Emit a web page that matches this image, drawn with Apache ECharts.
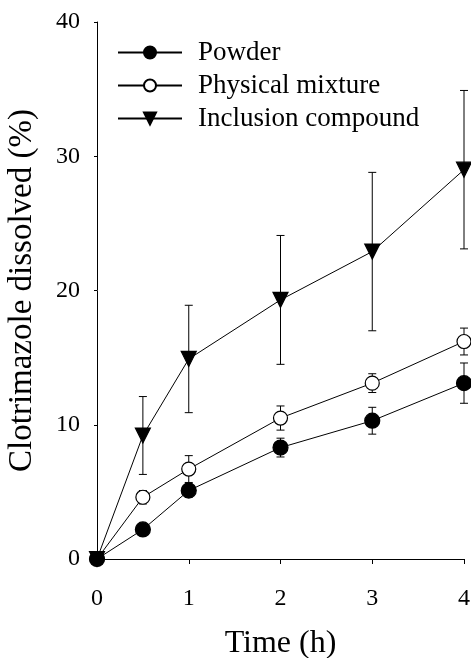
<!DOCTYPE html>
<html>
<head>
<meta charset="utf-8">
<script src="https://cdn.jsdelivr.net/npm/echarts@6/dist/echarts.min.js"></script>
<style>
  html, body { margin: 0; padding: 0; background: #fff; }
  #chart { width: 471px; height: 658px; }
</style>
</head>
<body>
<div id="chart"></div>
<script>
const times = [0, 0.5, 1, 2, 3, 4]
const xTicks = [0, 1, 2, 3, 4]
const yTicks = [0, 10, 20, 30, 40]

const powder = [0, 2.2, 5.1, 8.3, 10.3, 13.1]
const powderErr = [0, 0.3, 0.5, 0.7, 1.0, 1.5]
const physical = [0, 4.6, 6.7, 10.5, 13.1, 16.2]
const physicalErr = [0, 0.5, 1.0, 0.9, 0.7, 1.0]
const inclusion = [0, 9.2, 14.9, 19.3, 22.9, 29.0]
const inclusionErr = [0, 2.9, 4.0, 4.8, 5.9, 5.9]

const font = "'Liberation Serif', 'Times New Roman', serif"

const pairs = vals => times.map((t, i) => [t, vals[i]])
const errRows = (vals, errs) => times.map((t, i) => [t, vals[i] - errs[i], vals[i] + errs[i]])

// vertical bar with a short cap at both ends
function errorBar(params, api) {
  const lo = api.coord([api.value(0), api.value(1)])
  const hi = api.coord([api.value(0), api.value(2)])
  const w = 4
  const style = { stroke: '#000', lineWidth: 1 }
  return {
    type: 'group',
    children: [
      { type: 'line', shape: { x1: lo[0], y1: lo[1], x2: hi[0], y2: hi[1] }, style },
      { type: 'line', shape: { x1: hi[0] - w, y1: hi[1], x2: hi[0] + w, y2: hi[1] }, style },
      { type: 'line', shape: { x1: lo[0] - w, y1: lo[1], x2: lo[0] + w, y2: lo[1] }, style }
    ]
  }
}

const errSeries = (vals, errs) => ({
  type: 'custom',
  renderItem: errorBar,
  data: errRows(vals, errs),
  clip: false,
  silent: true,
  z: 1
})

const lineSeries = (name, vals, symbol, fill, size, rotate) => ({
  name,
  type: 'line',
  data: pairs(vals),
  symbol,
  symbolSize: size,
  symbolRotate: rotate || 0,
  clip: false,
  lineStyle: { color: '#000', width: 1 },
  itemStyle: { color: fill, borderColor: '#000', borderWidth: 1.2 },
  z: 3
})

const chart = echarts.init(document.getElementById('chart'))
chart.setOption({
  animation: false,
  backgroundColor: '#fff',
  grid: { left: 97, right: 7, top: 22, bottom: 99, containLabel: false, outerBoundsMode: 'none' },
  legend: {
    left: 117,
    top: 39,
    padding: 0,
    orient: 'vertical',
    itemWidth: 64,
    itemHeight: 15,
    itemGap: 6,
    data: ['Powder', 'Physical mixture', 'Inclusion compound'],
    textStyle: { fontFamily: font, fontSize: 27, color: '#000', padding: [0, 0, 0, 11] }
  },
  xAxis: {
    type: 'value',
    min: 0,
    max: 4,
    interval: 1,
    name: 'Time (h)',
    nameLocation: 'middle',
    nameGap: 69,
    nameTextStyle: { fontFamily: font, fontSize: 32, color: '#000' },
    splitLine: { show: false },
    axisLine: { lineStyle: { color: '#000', width: 1 } },
    axisTick: { inside: false, length: 5, lineStyle: { color: '#000' } },
    axisLabel: {
      fontFamily: font, fontSize: 24, color: '#000', margin: 28,
      formatter: v => xTicks.includes(v) ? String(v) : ''
    }
  },
  yAxis: {
    type: 'value',
    min: 0,
    max: 40,
    interval: 10,
    name: 'Clotrimazole dissolved (%)',
    nameLocation: 'middle',
    nameGap: 58,
    nameTextStyle: { fontFamily: font, fontSize: 33, color: '#000' },
    splitLine: { show: false },
    axisLine: { show: true, lineStyle: { color: '#000', width: 1 } },
    axisTick: { show: true, inside: false, length: 3, lineStyle: { color: '#000' } },
    axisLabel: {
      fontFamily: font, fontSize: 24, color: '#000', margin: 17,
      formatter: v => yTicks.includes(v) ? String(v) : ''
    }
  },
  series: [
    errSeries(inclusion, inclusionErr),
    errSeries(physical, physicalErr),
    errSeries(powder, powderErr),
    lineSeries('Inclusion compound', inclusion, 'triangle', '#000', 15, 180),
    lineSeries('Physical mixture', physical, 'circle', '#fff', 14),
    lineSeries('Powder', powder, 'circle', '#000', 15)
  ]
})
</script>
</body>
</html>
